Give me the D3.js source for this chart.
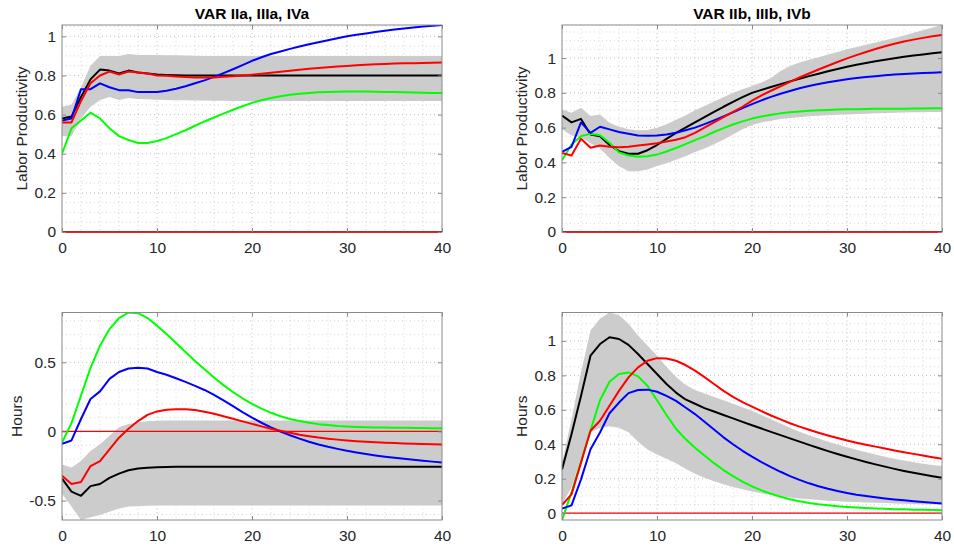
<!DOCTYPE html>
<html lang="en">
<head>
<meta charset="utf-8">
<script src="https://d3js.org/d3.v7.min.js"></script>
<title>VAR impulse responses</title>
<style>
    body { margin: 0; background: #fff; }
    svg { display: block; font-family: "Liberation Sans", Arial, Helvetica, sans-serif; }
    .tick text { font-size: 15.5px; fill: #262626; }
    .tick line { stroke: #8a8a8a; }
    .title { font-size: 15.5px; font-weight: bold; fill: #000; }
    .ylabel { font-size: 15.5px; fill: #262626; }
</style>
</head>
<body>
<div id="container"></div>
<script>
const width = 954;
const height = 546;

const horizon = d3.range(0, 41);
const xTicks = [0, 10, 20, 30, 40];
const prodTicks = [0, 0.2, 0.4, 0.6, 0.8, 1];
const hoursATicks = [-0.5, 0, 0.5];
const hoursBTicks = [0, 0.2, 0.4, 0.6, 0.8, 1];

// VAR IIa, IIIa, IVa - labor productivity
const prodA_black = [0.58, 0.59, 0.69, 0.78, 0.83, 0.825, 0.81, 0.825, 0.815, 0.81,
    0.805, 0.803, 0.801, 0.80, 0.80, 0.80, 0.80, 0.80, 0.80, 0.80,
    0.80, 0.80, 0.80, 0.80, 0.80, 0.80, 0.80, 0.80, 0.80, 0.80,
    0.80, 0.80, 0.80, 0.80, 0.80, 0.80, 0.80, 0.80, 0.80, 0.80,
    0.80];
const prodA_red = [0.56, 0.56, 0.67, 0.76, 0.80, 0.82, 0.805, 0.82, 0.815, 0.81,
    0.80, 0.798, 0.795, 0.792, 0.79, 0.79, 0.79, 0.793, 0.796, 0.80,
    0.804, 0.809, 0.814, 0.819, 0.824, 0.829, 0.834, 0.838, 0.842, 0.846,
    0.849, 0.852, 0.855, 0.857, 0.859, 0.861, 0.862, 0.863, 0.864, 0.865,
    0.866];
const prodA_blue = [0.57, 0.58, 0.73, 0.73, 0.76, 0.74, 0.725, 0.725, 0.715, 0.715,
    0.715, 0.722, 0.732, 0.745, 0.76, 0.775, 0.793, 0.812, 0.832, 0.853,
    0.875, 0.893, 0.91, 0.923, 0.936, 0.948, 0.96, 0.97, 0.98, 0.99,
    1.0, 1.008, 1.015, 1.022, 1.029, 1.035, 1.04, 1.045, 1.05, 1.054,
    1.058];
const prodA_green = [0.40, 0.53, 0.57, 0.61, 0.58, 0.53, 0.49, 0.47, 0.455, 0.455,
    0.465, 0.48, 0.50, 0.52, 0.543, 0.565, 0.585, 0.605, 0.625, 0.643,
    0.66, 0.673, 0.685, 0.694, 0.701, 0.707, 0.711, 0.714, 0.716, 0.717,
    0.718, 0.718, 0.718, 0.717, 0.716, 0.715, 0.714, 0.713, 0.712, 0.711,
    0.71];
const prodA_hi = [0.64, 0.65, 0.74, 0.85, 0.90, 0.90, 0.90, 0.91, 0.905, 0.905,
    0.905, 0.904, 0.903, 0.902, 0.901, 0.90, 0.90, 0.90, 0.90, 0.90,
    0.90, 0.90, 0.90, 0.90, 0.90, 0.90, 0.90, 0.90, 0.90, 0.90,
    0.90, 0.90, 0.90, 0.90, 0.90, 0.90, 0.90, 0.90, 0.90, 0.90,
    0.90];
const prodA_lo = [0.49, 0.49, 0.58, 0.64, 0.675, 0.69, 0.675, 0.685, 0.68, 0.678,
    0.676, 0.675, 0.674, 0.673, 0.672, 0.672, 0.671, 0.671, 0.67, 0.67,
    0.67, 0.67, 0.67, 0.67, 0.67, 0.67, 0.67, 0.67, 0.67, 0.67,
    0.67, 0.67, 0.67, 0.67, 0.67, 0.67, 0.67, 0.67, 0.67, 0.67,
    0.67];

// VAR IIb, IIIb, IVb - labor productivity
const prodB_black = [0.67, 0.63, 0.65, 0.56, 0.55, 0.50, 0.465, 0.45, 0.45, 0.47,
    0.50, 0.535, 0.57, 0.60, 0.63, 0.66, 0.69, 0.72, 0.748, 0.775,
    0.80, 0.817, 0.834, 0.85, 0.866, 0.881, 0.896, 0.91, 0.924, 0.937,
    0.95, 0.961, 0.971, 0.981, 0.99, 0.999, 1.007, 1.014, 1.021, 1.027,
    1.033];
const prodB_red = [0.455, 0.44, 0.536, 0.484, 0.497, 0.49, 0.487, 0.49, 0.497, 0.503,
    0.51, 0.52, 0.53, 0.545, 0.57, 0.60, 0.63, 0.66, 0.69, 0.72,
    0.755, 0.785, 0.812, 0.838, 0.863, 0.888, 0.911, 0.934, 0.956, 0.977,
    0.998, 1.017, 1.035, 1.052, 1.068, 1.082, 1.095, 1.106, 1.116, 1.125,
    1.133];
const prodB_blue = [0.46, 0.49, 0.63, 0.57, 0.605, 0.59, 0.575, 0.565, 0.555, 0.553,
    0.555, 0.56, 0.57, 0.585, 0.60, 0.62, 0.642, 0.665, 0.688, 0.712,
    0.735, 0.757, 0.777, 0.795, 0.811, 0.826, 0.839, 0.851, 0.861, 0.87,
    0.878, 0.885, 0.891, 0.896, 0.901, 0.905, 0.908, 0.911, 0.914, 0.916,
    0.918];
const prodB_green = [0.412, 0.503, 0.551, 0.565, 0.556, 0.513, 0.458, 0.44, 0.432, 0.435,
    0.445, 0.463, 0.483, 0.505, 0.528, 0.55, 0.575, 0.597, 0.618, 0.636,
    0.652, 0.664, 0.674, 0.682, 0.688, 0.693, 0.697, 0.70, 0.702, 0.704,
    0.705, 0.706, 0.707, 0.708, 0.708, 0.709, 0.709, 0.71, 0.71, 0.711,
    0.711];
const prodB_hi = [0.705, 0.685, 0.715, 0.667, 0.675, 0.628, 0.605, 0.59, 0.585, 0.587,
    0.60, 0.62, 0.645, 0.67, 0.70, 0.725, 0.75, 0.775, 0.80, 0.82,
    0.84, 0.86, 0.885, 0.925, 0.955, 0.975, 0.99, 1.005, 1.02, 1.035,
    1.05, 1.063, 1.076, 1.089, 1.102, 1.115, 1.13, 1.145, 1.16, 1.175,
    1.19];
const prodB_lo = [0.59, 0.555, 0.545, 0.51, 0.48, 0.426, 0.378, 0.349, 0.349, 0.36,
    0.38, 0.395, 0.415, 0.435, 0.46, 0.48, 0.505, 0.53, 0.56, 0.59,
    0.615, 0.63, 0.64, 0.65, 0.655, 0.66, 0.665, 0.668, 0.671, 0.674,
    0.676, 0.678, 0.68, 0.682, 0.684, 0.686, 0.687, 0.688, 0.689, 0.69,
    0.69];

// VAR IIa, IIIa, IVa - hours
const hoursA_black = [-0.34, -0.435, -0.465, -0.395, -0.38, -0.335, -0.305, -0.28, -0.268, -0.262,
    -0.258, -0.256, -0.255, -0.255, -0.255, -0.255, -0.255, -0.255, -0.255, -0.255,
    -0.255, -0.255, -0.255, -0.255, -0.255, -0.255, -0.255, -0.255, -0.255, -0.255,
    -0.255, -0.255, -0.255, -0.255, -0.255, -0.255, -0.255, -0.255, -0.255, -0.255,
    -0.255];
const hoursA_red = [-0.32, -0.38, -0.365, -0.25, -0.215, -0.13, -0.045, 0.02, 0.075, 0.12,
    0.145, 0.157, 0.161, 0.161, 0.155, 0.143, 0.128, 0.11, 0.092, 0.073,
    0.055, 0.037, 0.02, 0.005, -0.01, -0.023, -0.034, -0.044, -0.052, -0.059,
    -0.065, -0.07, -0.074, -0.078, -0.081, -0.084, -0.087, -0.089, -0.091, -0.093,
    -0.095];
const hoursA_blue = [-0.09, -0.065, 0.09, 0.235, 0.29, 0.38, 0.43, 0.455, 0.46, 0.455,
    0.43, 0.41, 0.385, 0.358, 0.33, 0.30, 0.265, 0.225, 0.183, 0.14,
    0.10, 0.063, 0.03, 0.0, -0.027, -0.052, -0.074, -0.094, -0.111, -0.126,
    -0.14, -0.152, -0.163, -0.173, -0.182, -0.19, -0.198, -0.205, -0.212, -0.218,
    -0.224];
const hoursA_green = [-0.08, 0.06, 0.26, 0.46, 0.62, 0.74, 0.82, 0.86, 0.855, 0.82,
    0.765, 0.705, 0.64, 0.575, 0.51, 0.45, 0.39, 0.335, 0.285, 0.24,
    0.20, 0.165, 0.135, 0.11, 0.09, 0.075, 0.063, 0.053, 0.046, 0.04,
    0.036, 0.033, 0.031, 0.029, 0.028, 0.027, 0.026, 0.025, 0.025, 0.024,
    0.024];
const hoursA_hi = [-0.238, -0.26, -0.214, -0.141, -0.092, -0.031, 0.03, 0.054, 0.066, 0.073,
    0.078, 0.079, 0.08, 0.08, 0.08, 0.08, 0.08, 0.08, 0.08, 0.08,
    0.08, 0.08, 0.08, 0.08, 0.08, 0.08, 0.08, 0.08, 0.08, 0.08,
    0.08, 0.08, 0.08, 0.08, 0.08, 0.08, 0.08, 0.08, 0.08, 0.08,
    0.08];
const hoursA_lo = [-0.45, -0.543, -0.64, -0.62, -0.604, -0.58, -0.556, -0.543, -0.54, -0.537,
    -0.535, -0.535, -0.535, -0.535, -0.535, -0.535, -0.535, -0.535, -0.535, -0.535,
    -0.535, -0.535, -0.535, -0.535, -0.535, -0.535, -0.535, -0.535, -0.535, -0.535,
    -0.535, -0.535, -0.535, -0.535, -0.535, -0.535, -0.535, -0.535, -0.535, -0.535,
    -0.535];

// VAR IIb, IIIb, IVb - hours
const hoursB_black = [0.254, 0.458, 0.68, 0.914, 0.982, 1.021, 1.011, 0.977, 0.924, 0.866,
    0.808, 0.75, 0.70, 0.66, 0.635, 0.61, 0.59, 0.57, 0.55, 0.53,
    0.51, 0.491, 0.472, 0.453, 0.434, 0.415, 0.396, 0.378, 0.36, 0.343,
    0.327, 0.312, 0.297, 0.283, 0.27, 0.257, 0.245, 0.234, 0.224, 0.214,
    0.205];
const hoursB_red = [0.047, 0.109, 0.293, 0.478, 0.536, 0.623, 0.71, 0.788, 0.846, 0.885,
    0.90, 0.898, 0.885, 0.86, 0.827, 0.79, 0.75, 0.71, 0.675, 0.645,
    0.618, 0.592, 0.567, 0.544, 0.522, 0.502, 0.484, 0.467, 0.451, 0.436,
    0.422, 0.409, 0.397, 0.386, 0.375, 0.364, 0.354, 0.344, 0.334, 0.324,
    0.315];
const hoursB_blue = [0.027, 0.045, 0.196, 0.371, 0.468, 0.58, 0.642, 0.697, 0.715, 0.717,
    0.705, 0.681, 0.652, 0.613, 0.575, 0.53, 0.485, 0.44, 0.40, 0.362,
    0.328, 0.296, 0.267, 0.24, 0.215, 0.193, 0.173, 0.156, 0.141, 0.128,
    0.117, 0.107, 0.099, 0.092, 0.085, 0.079, 0.074, 0.069, 0.065, 0.06,
    0.056];
const hoursB_green = [-0.04, 0.12, 0.30, 0.48, 0.655, 0.763, 0.808, 0.817, 0.794, 0.74,
    0.655, 0.57, 0.49, 0.43, 0.38, 0.335, 0.29, 0.25, 0.215, 0.183,
    0.155, 0.132, 0.112, 0.095, 0.081, 0.069, 0.059, 0.051, 0.045, 0.04,
    0.036, 0.032, 0.029, 0.027, 0.025, 0.023, 0.022, 0.02, 0.019, 0.018,
    0.017];
const hoursB_hi = [0.29, 0.545, 0.817, 1.06, 1.128, 1.165, 1.15, 1.099, 1.031, 0.973,
    0.914, 0.85, 0.79, 0.745, 0.715, 0.695, 0.675, 0.655, 0.635, 0.615,
    0.595, 0.57, 0.545, 0.52, 0.495, 0.472, 0.452, 0.433, 0.415, 0.398,
    0.383, 0.368, 0.354, 0.341, 0.328, 0.316, 0.305, 0.295, 0.286, 0.279,
    0.274];
const hoursB_lo = [0.05, 0.15, 0.32, 0.47, 0.495, 0.505, 0.495, 0.47, 0.415, 0.37,
    0.34, 0.315, 0.29, 0.258, 0.228, 0.205, 0.185, 0.168, 0.152, 0.138,
    0.125, 0.115, 0.106, 0.098, 0.091, 0.085, 0.08, 0.076, 0.072, 0.069,
    0.066, 0.064, 0.062, 0.06, 0.058, 0.056, 0.055, 0.053, 0.052, 0.051,
    0.05];

// drawing order: black, green, blue, red
const lineColors = ["#000000", "#00ff00", "#0000ff", "#ff0000"];

const plotW = 380;
const panels = [
    { id: "tl", title: "VAR IIa, IIIa, IVa", ylabel: "Labor Productivity", left: 62, top: 25, bottom: 232,
      labelX: 27, lo: prodA_lo, hi: prodA_hi, yTicks: prodTicks, minorY: 0.05,
      lines: [prodA_black, prodA_green, prodA_blue, prodA_red] },
    { id: "tr", title: "VAR IIb, IIIb, IVb", ylabel: "Labor Productivity", left: 562, top: 25, bottom: 232,
      labelX: 527, lo: prodB_lo, hi: prodB_hi, yTicks: prodTicks, minorY: 0.05,
      lines: [prodB_black, prodB_green, prodB_blue, prodB_red] },
    { id: "bl", title: "", ylabel: "Hours", left: 62, top: 312.5, bottom: 520,
      labelX: 22, lo: hoursA_lo, hi: hoursA_hi, yTicks: hoursATicks, minorY: 0.1,
      lines: [hoursA_black, hoursA_green, hoursA_blue, hoursA_red] },
    { id: "br", title: "", ylabel: "Hours", left: 562, top: 312.5, bottom: 520,
      labelX: 527, lo: hoursB_lo, hi: hoursB_hi, yTicks: hoursBTicks, minorY: 0.05,
      lines: [hoursB_black, hoursB_green, hoursB_blue, hoursB_red] }
];

const svg = d3.select("#container").append("svg")
    .attr("width", width)
    .attr("height", height);

panels.forEach(drawPanel);

function drawPanel(p) {
    const g = svg.append("g");
    const right = p.left + plotW;

    const x = d3.scaleLinear().domain([0, 40]).range([p.left, right]);
    const all = [].concat(p.lo, p.hi, ...p.lines, [0]);
    const y = d3.scaleLinear().domain(d3.extent(all)).range([p.bottom, p.top]);
    const [y0, y1] = y.domain();

    g.append("clipPath").attr("id", "clip-" + p.id)
        .append("rect")
        .attr("x", p.left).attr("y", p.top)
        .attr("width", plotW).attr("height", p.bottom - p.top);

    // minor grid
    const minorX = d3.range(2, 40, 2).filter(v => v % 10 !== 0);
    const minorYv = d3.range(Math.ceil(y0 / p.minorY) * p.minorY, y1, p.minorY)
        .filter(v => !p.yTicks.some(t => Math.abs(t - v) < 1e-6));
    const grid = g.append("g").attr("fill", "none");
    grid.selectAll(".mx").data(minorX).join("line")
        .attr("x1", d => x(d)).attr("x2", d => x(d))
        .attr("y1", p.top).attr("y2", p.bottom)
        .attr("stroke", "#cdcdcd").attr("stroke-width", 0.8).attr("stroke-dasharray", "1,3");
    grid.selectAll(".my").data(minorYv).join("line")
        .attr("x1", p.left).attr("x2", right)
        .attr("y1", d => y(d)).attr("y2", d => y(d))
        .attr("stroke", "#cdcdcd").attr("stroke-width", 0.8).attr("stroke-dasharray", "1,3");
    // major grid
    grid.selectAll(".gx").data(xTicks.slice(1, -1)).join("line")
        .attr("x1", d => x(d)).attr("x2", d => x(d))
        .attr("y1", p.top).attr("y2", p.bottom)
        .attr("stroke", "#b8b8b8").attr("stroke-width", 0.9).attr("stroke-dasharray", "1,3");
    grid.selectAll(".gy").data(p.yTicks).join("line")
        .attr("x1", p.left).attr("x2", right)
        .attr("y1", d => y(d)).attr("y2", d => y(d))
        .attr("stroke", "#b8b8b8").attr("stroke-width", 0.9).attr("stroke-dasharray", "1,3");

    const plot = g.append("g").attr("clip-path", "url(#clip-" + p.id + ")");

    // confidence band
    const band = d3.area()
        .x((d, i) => x(horizon[i]))
        .y0((d, i) => y(p.lo[i]))
        .y1((d, i) => y(p.hi[i]));
    plot.append("path").datum(p.hi).attr("d", band).attr("fill", "#cccccc");

    // zero line
    plot.append("line")
        .attr("x1", p.left).attr("x2", right)
        .attr("y1", y(0)).attr("y2", y(0))
        .attr("stroke", "#ff0000").attr("stroke-width", 1.2);

    const line = d3.line().x((d, i) => x(horizon[i])).y(d => y(d));
    p.lines.forEach((s, k) => {
        plot.append("path").datum(s)
            .attr("d", line)
            .attr("fill", "none")
            .attr("stroke", lineColors[k])
            .attr("stroke-width", 2)
            .attr("stroke-linejoin", "round");
    });

    // box
    g.append("rect")
        .attr("x", p.left).attr("y", p.top)
        .attr("width", plotW).attr("height", p.bottom - p.top)
        .attr("fill", "none").attr("stroke", "#8a8a8a").attr("stroke-width", 1);

    if (y0 === 0) {
        g.append("line")
            .attr("x1", p.left).attr("x2", right)
            .attr("y1", y(0)).attr("y2", y(0))
            .attr("stroke", "#cc0000").attr("stroke-width", 1.5);
    }

    const fmt = d => String(d);

    g.append("g").attr("transform", `translate(0,${p.bottom})`)
        .call(d3.axisBottom(x).tickValues(xTicks).tickSize(-4).tickPadding(9.5).tickFormat(fmt))
        .call(a => a.select(".domain").remove())
        .call(a => a.selectAll("text").attr("font-family", null).attr("font-size", null));
    g.append("g").attr("transform", `translate(0,${p.top})`)
        .call(d3.axisTop(x).tickValues(xTicks).tickSize(-4).tickFormat(""))
        .call(a => a.select(".domain").remove());
    g.append("g").attr("transform", `translate(${p.left},0)`)
        .call(d3.axisLeft(y).tickValues(p.yTicks).tickSize(-4).tickPadding(6).tickFormat(fmt))
        .call(a => a.select(".domain").remove())
        .call(a => a.selectAll("text").attr("font-family", null).attr("font-size", null));
    g.append("g").attr("transform", `translate(${right},0)`)
        .call(d3.axisRight(y).tickValues(p.yTicks).tickSize(-4).tickFormat(""))
        .call(a => a.select(".domain").remove());

    svg.selectAll(".tick").attr("font-family", null);

    if (p.title) {
        g.append("text").attr("class", "title")
            .attr("x", (p.left + right) / 2).attr("y", 19.3)
            .attr("text-anchor", "middle")
            .text(p.title);
    }

    g.append("text").attr("class", "ylabel")
        .attr("transform", `translate(${p.labelX},${(p.top + p.bottom) / 2}) rotate(-90)`)
        .attr("text-anchor", "middle")
        .text(p.ylabel);
}
</script>
</body>
</html>
